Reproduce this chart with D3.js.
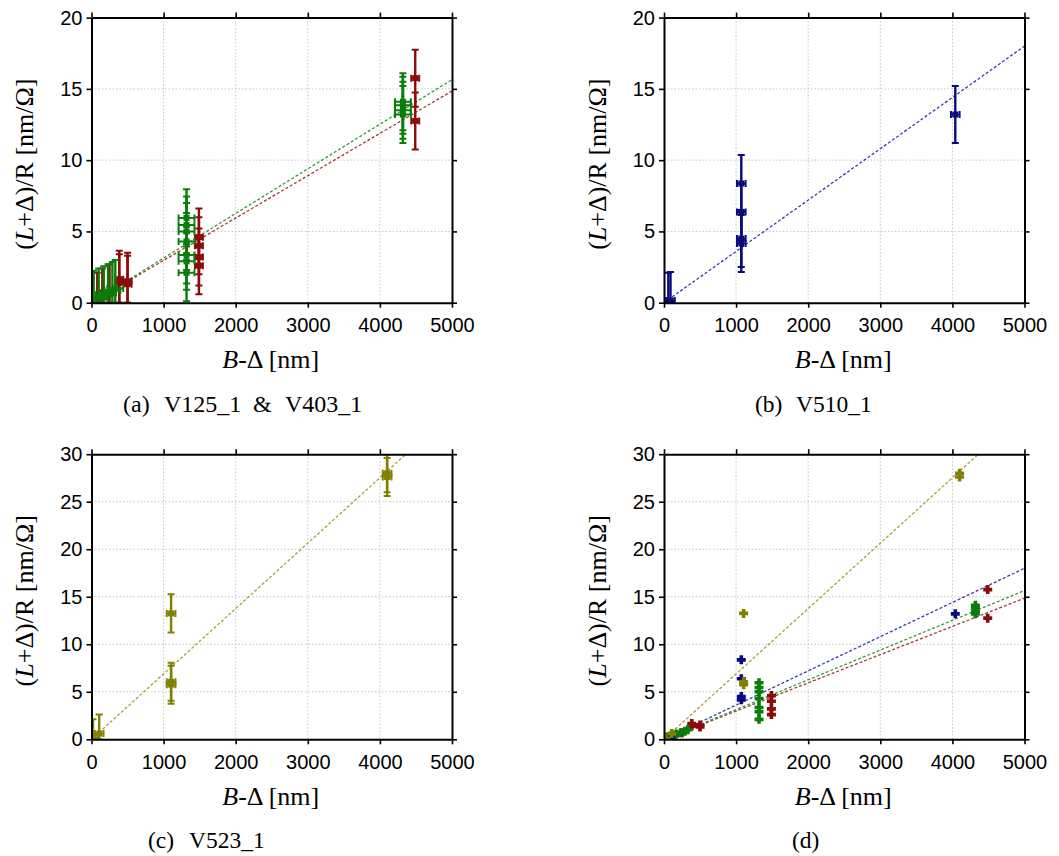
<!DOCTYPE html>
<html>
<head>
<meta charset="utf-8">
<script src="https://cdn.jsdelivr.net/npm/d3@7"></script>
<style>
  body { margin: 0; background: #fff; }
  text { fill: #000; }
</style>
</head>
<body>
<svg id="fig" width="1059" height="856"></svg>
<script>
// ---- measurements: (B - Δ) in nm, (L + Δ)/R in nm/Ω ----
const v125X = [80, 150, 250, 385, 385, 500, 500, 1490, 1490, 1490, 1490, 4490, 4490];
const v125Y = [0.1, 0.4, 0.7, 1.65, 1.4, 1.5, 1.3, 4.6, 4.0, 3.2, 2.6, 15.75, 12.75];

const v403X = [30, 100, 170, 230, 290, 330, 1318, 1318, 1318, 1318, 1318, 1318, 1318, 4319, 4319, 4319, 4319];
const v403Y = [0.25, 0.4, 0.55, 0.7, 0.85, 1.0, 5.95, 5.45, 5.0, 4.3, 3.35, 2.9, 2.1, 14.1, 13.85, 13.5, 13.2];

const v510X = [60, 90, 1072, 1072, 1072, 1072, 4040];
const v510Y = [0.1, 0.15, 8.36, 6.37, 4.5, 4.15, 13.2];

const v523X = [20, 107, 1104, 1104, 1104, 4100, 4100];
const v523Y = [0.1, 0.6, 13.25, 6.05, 5.75, 28.0, 27.6];

// uncertainties (±)
const yErr = 2.0;
const xErrV125 = 55, xErrV403 = 110, xErrV510 = 60, xErrV523 = 60;

// slopes of the linear fits through the origin
const slopeV125 = 0.00297, slopeV403 = 0.00313, slopeV510 = 0.0036, slopeV523 = 0.00688;

const xTicks = [0, 1000, 2000, 3000, 4000, 5000];
const yTicks20 = [0, 5, 10, 15, 20];
const yTicks30 = [0, 5, 10, 15, 20, 25, 30];

// caption words, each with its left edge
const captionA = [["(a)", 123], ["V125_1", 164], ["&", 253], ["V403_1", 285]];
const captionB = [["(b)", 755], ["V510_1", 796]];
const captionC = [["(c)", 148], ["V523_1", 189]];
const captionD = [["(d)", 792]];

const series = {
  v125: { xs: v125X, ys: v125Y, xe: xErrV125, slope: slopeV125, color: "#8b0a0a", line: "#a33a3a" },
  v403: { xs: v403X, ys: v403Y, xe: xErrV403, slope: slopeV403, color: "#0a7d0a", line: "#3a9a3a" },
  v510: { xs: v510X, ys: v510Y, xe: xErrV510, slope: slopeV510, color: "#0a0a80", line: "#3b3bb0" },
  v523: { xs: v523X, ys: v523Y, xe: xErrV523, slope: slopeV523, color: "#828000", line: "#a3a13a" }
};

const svg = d3.select("#fig");

const dx = 572.5, dy = 436.6;
const panels = [
  { left: 91.5, right: 452, top: 17.6, bottom: 302.7, yTicks: yTicks20, keys: ["v125", "v403"], err: true, cap: captionA, capSize: 24 },
  { left: 91.5 + dx, right: 452 + dx, top: 17.6, bottom: 302.7, yTicks: yTicks20, keys: ["v510"], err: true, cap: captionB, capSize: 23.5 },
  { left: 91.5, right: 452, top: 17.6 + dy, bottom: 302.7 + dy, yTicks: yTicks30, keys: ["v523"], err: true, cap: captionC, capSize: 23.5 },
  { left: 91.5 + dx, right: 452 + dx, top: 17.6 + dy, bottom: 302.7 + dy, yTicks: yTicks30, keys: ["v125", "v403", "v510", "v523"], err: false, cap: captionD, capSize: 23.5 }
];

panels.forEach((p, i) => {
  const g = svg.append("g");
  const yMax = p.yTicks[p.yTicks.length - 1];
  const x = d3.scaleLinear().domain([0, 5000]).range([p.left, p.right]);
  const y = d3.scaleLinear().domain([0, yMax]).range([p.bottom, p.top]);

  // dotted grid
  const grid = g.append("g").attr("stroke", "#c4c4c4").attr("stroke-width", 1).attr("stroke-dasharray", "1.5,2");
  xTicks.slice(1, -1).forEach(t => grid.append("line").attr("x1", x(t)).attr("x2", x(t)).attr("y1", p.top).attr("y2", p.bottom));
  p.yTicks.slice(1, -1).forEach(t => grid.append("line").attr("y1", y(t)).attr("y2", y(t)).attr("x1", p.left).attr("x2", p.right));

  const clipId = "clip" + i;
  g.append("clipPath").attr("id", clipId).append("rect")
    .attr("x", p.left).attr("y", p.top).attr("width", p.right - p.left).attr("height", p.bottom - p.top);
  const plot = g.append("g").attr("clip-path", `url(#${clipId})`);

  // fit lines
  p.keys.forEach(k => {
    const s = series[k];
    plot.append("line")
      .attr("x1", x(0)).attr("y1", y(0)).attr("x2", x(5000)).attr("y2", y(s.slope * 5000))
      .attr("stroke", s.line).attr("stroke-width", 1.3).attr("stroke-dasharray", "3,2");
  });

  // data
  p.keys.forEach(k => {
    const s = series[k];
    const pts = s.xs.map((v, j) => ({ x: v, y: s.ys[j] }));
    if (p.err) {
      const eg = plot.append("g").attr("stroke", s.color).attr("fill", s.color);
      pts.forEach(d => {
        const cx = x(d.x), cy = y(d.y);
        const yt = y(d.y + yErr), yb = y(Math.max(0, d.y - yErr));
        eg.append("line").attr("x1", cx).attr("x2", cx).attr("y1", yt).attr("y2", y(d.y - yErr)).attr("stroke-width", 2.4);
        eg.append("line").attr("x1", cx - 3.5).attr("x2", cx + 3.5).attr("y1", yt).attr("y2", yt).attr("stroke-width", 2);
        eg.append("line").attr("x1", cx - 3.5).attr("x2", cx + 3.5).attr("y1", yb).attr("y2", yb).attr("stroke-width", 2);
        const xl = x(d.x - s.xe), xr = x(d.x + s.xe);
        eg.append("line").attr("x1", xl).attr("x2", xr).attr("y1", cy).attr("y2", cy).attr("stroke-width", 2);
        eg.append("line").attr("x1", xl).attr("x2", xl).attr("y1", cy - 3.5).attr("y2", cy + 3.5).attr("stroke-width", 2);
        eg.append("line").attr("x1", xr).attr("x2", xr).attr("y1", cy - 3.5).attr("y2", cy + 3.5).attr("stroke-width", 2);
        eg.append("rect").attr("x", cx - 3).attr("y", cy - 3).attr("width", 6).attr("height", 6).attr("stroke", "none");
      });
    } else {
      const cross = "M-4.5,-1.8H-1.8V-4.5H1.8V-1.8H4.5V1.8H1.8V4.5H-1.8V1.8H-4.5Z";
      plot.append("g").selectAll("path").data(pts).join("path")
        .attr("d", cross).attr("fill", s.color)
        .attr("transform", d => `translate(${x(d.x)},${y(d.y)})`);
    }
  });

  // frame axes with outward ticks on all sides
  const styleAxis = sel => {
    sel.select(".domain").attr("stroke-width", 2);
    sel.selectAll(".tick line").attr("stroke-width", 1.6);
    sel.attr("font-family", "'Liberation Sans', Arial, sans-serif").attr("font-size", 20);
  };
  g.append("g").attr("transform", `translate(0,${p.bottom})`)
    .call(d3.axisBottom(x).tickValues(xTicks).tickSize(5).tickSizeOuter(0).tickPadding(10.5).tickFormat(d3.format("d")))
    .call(styleAxis);
  g.append("g").attr("transform", `translate(0,${p.top})`)
    .call(d3.axisTop(x).tickValues(xTicks).tickSize(5).tickSizeOuter(0).tickFormat(""))
    .call(styleAxis);
  g.append("g").attr("transform", `translate(${p.left},0)`)
    .call(d3.axisLeft(y).tickValues(p.yTicks).tickSize(5).tickSizeOuter(0).tickPadding(4).tickFormat(d3.format("d")))
    .call(styleAxis);
  g.append("g").attr("transform", `translate(${p.right},0)`)
    .call(d3.axisRight(y).tickValues(p.yTicks).tickSize(5).tickSizeOuter(0).tickFormat(""))
    .call(styleAxis);

  // axis titles
  const serif = "'Liberation Serif', 'Times New Roman', serif";
  const cxPlot = (p.left + p.right) / 2, cyPlot = (p.top + p.bottom) / 2;
  const yt = g.append("text").attr("transform", `translate(${p.left - 58.5},${cyPlot + 4}) rotate(-90)`)
    .attr("text-anchor", "middle").attr("font-family", serif).attr("font-size", 26);
  yt.append("tspan").text("(");
  yt.append("tspan").attr("font-style", "italic").text("L");
  yt.append("tspan").text("+Δ)/R [nm/Ω]");

  const xt = g.append("text").attr("x", cxPlot - 1).attr("y", p.bottom + 65.5)
    .attr("text-anchor", "middle").attr("font-family", serif).attr("font-size", 26);
  xt.append("tspan").attr("font-style", "italic").text("B");
  xt.append("tspan").text("-Δ [nm]");

  const cap = g.append("text").attr("y", p.bottom + 109)
    .attr("font-family", serif).attr("font-size", p.capSize);
  p.cap.forEach(([w, cx]) => cap.append("tspan").attr("x", cx).text(w));
});
</script>
</body>
</html>
